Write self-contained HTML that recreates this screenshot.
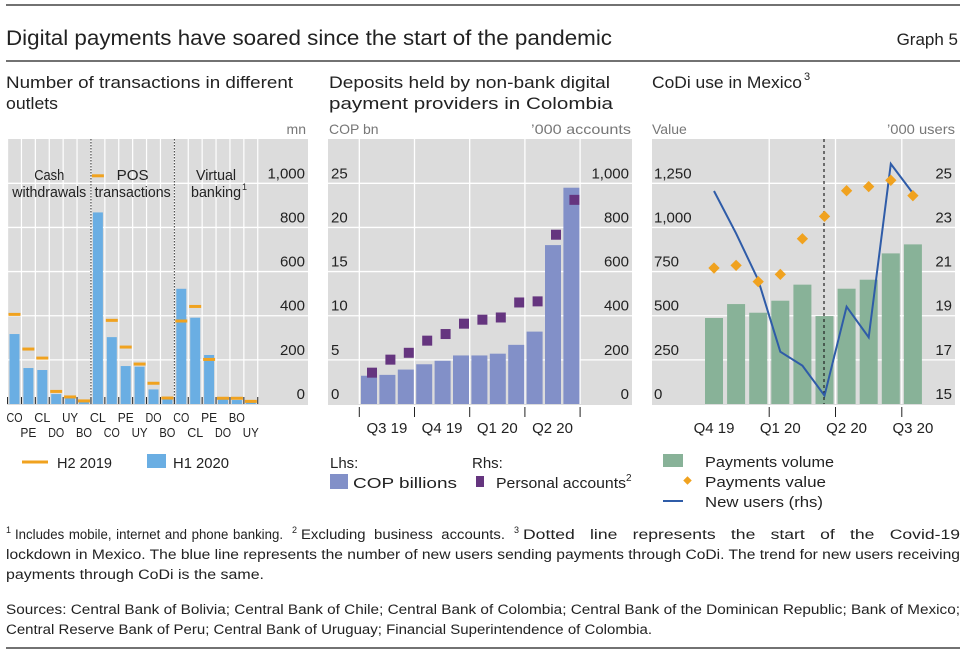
<!DOCTYPE html>
<html><head><meta charset="utf-8"><style>
html,body{margin:0;padding:0;background:#fff;}
svg{display:block;font-family:"Liberation Sans",sans-serif;}
</style></head><body>
<svg id="s" width="966" height="656" viewBox="0 0 966 656">
<line x1="6" y1="5" x2="960" y2="5" stroke="#444" stroke-width="1.5"/>
<text x="6" y="45" font-size="21" textLength="606" lengthAdjust="spacingAndGlyphs" fill="#222">Digital payments have soared since the start of the pandemic</text>
<text x="958" y="45" font-size="17" text-anchor="end" fill="#222">Graph 5</text>
<line x1="6" y1="61" x2="960" y2="61" stroke="#444" stroke-width="1.5"/>
<g font-size="17" fill="#222">
<text x="6" y="88" textLength="287" lengthAdjust="spacingAndGlyphs">Number of transactions in different</text>
<text x="6" y="109" textLength="52" lengthAdjust="spacingAndGlyphs">outlets</text>
<text x="329" y="88" textLength="281" lengthAdjust="spacingAndGlyphs">Deposits held by non-bank digital</text>
<text x="329" y="109" textLength="284" lengthAdjust="spacingAndGlyphs">payment providers in Colombia</text>
<text x="652" y="88" textLength="150" lengthAdjust="spacingAndGlyphs">CoDi use in Mexico</text>
<text x="804" y="80" font-size="11">3</text>
</g>
<g font-size="14" fill="#777">
<text x="306" y="134" text-anchor="end">mn</text>
<text x="329" y="134">COP bn</text>
<text x="631" y="134" text-anchor="end" textLength="100" lengthAdjust="spacingAndGlyphs">’000 accounts</text>
<text x="652" y="134">Value</text>
<text x="955" y="134" text-anchor="end" textLength="68" lengthAdjust="spacingAndGlyphs">’000 users</text>
</g>
<g id="p1"></g><g id="p2"></g><g id="p3"></g>
<g font-size="15" fill="#222">
<line x1="22" y1="462" x2="48" y2="462" stroke="#f0a21f" stroke-width="3"/>
<text x="57" y="468" textLength="55" lengthAdjust="spacingAndGlyphs">H2 2019</text>
<rect x="147" y="454" width="19" height="14" fill="#6aaee3"/>
<text x="173" y="468" textLength="56" lengthAdjust="spacingAndGlyphs">H1 2020</text>
<text x="330" y="468">Lhs:</text>
<rect x="330" y="474" width="18" height="15" fill="#8290c8"/>
<text x="353" y="488" textLength="104" lengthAdjust="spacingAndGlyphs">COP billions</text>
<text x="472" y="468">Rhs:</text>
<rect x="476" y="476" width="8" height="11" fill="#65357f"/>
<text x="496" y="488" textLength="130" lengthAdjust="spacingAndGlyphs">Personal accounts</text>
<text x="626" y="481" font-size="10">2</text>
<rect x="663" y="454" width="20" height="13" fill="#88b298"/>
<text x="705" y="467" textLength="129" lengthAdjust="spacingAndGlyphs">Payments volume</text>
<rect x="684.5" y="477.5" width="6" height="6" fill="#f0a21f" transform="rotate(45 687.5 480.5)"/>
<text x="705" y="487" textLength="121" lengthAdjust="spacingAndGlyphs">Payments value</text>
<line x1="663" y1="501" x2="683" y2="501" stroke="#2f5ca8" stroke-width="2"/>
<text x="705" y="507" textLength="118" lengthAdjust="spacingAndGlyphs">New users (rhs)</text>
</g>
<g font-size="13.5" fill="#222">
<text x="6" y="533" font-size="9">1</text>
<text x="15" y="539" word-spacing="1" textLength="268" lengthAdjust="spacingAndGlyphs">Includes mobile, internet and phone banking.</text>
<text x="292" y="533" font-size="9">2</text>
<text x="301" y="539" word-spacing="4" textLength="204" lengthAdjust="spacingAndGlyphs">Excluding business accounts.</text>
<text x="514" y="533" font-size="9">3</text>
<text x="523" y="539" word-spacing="8" textLength="437" lengthAdjust="spacingAndGlyphs">Dotted line represents the start of the Covid-19</text>
<text x="6" y="559" textLength="954" lengthAdjust="spacingAndGlyphs">lockdown in Mexico. The blue line represents the number of new users sending payments through CoDi. The trend for new users receiving</text>
<text x="6" y="579" textLength="258" lengthAdjust="spacingAndGlyphs">payments through CoDi is the same.</text>
<text x="6" y="614" textLength="954" lengthAdjust="spacingAndGlyphs">Sources: Central Bank of Bolivia; Central Bank of Chile; Central Bank of Colombia; Central Bank of the Dominican Republic; Bank of Mexico;</text>
<text x="6" y="634" textLength="646" lengthAdjust="spacingAndGlyphs">Central Reserve Bank of Peru; Central Bank of Uruguay; Financial Superintendence of Colombia.</text>
</g>
<line x1="6" y1="648" x2="960" y2="648" stroke="#444" stroke-width="1.5"/>
</svg>
<script>
// Panel 1 data
const p1Countries = ["CO","PE","CL","DO","UY","BO","CL","CO","PE","UY","DO","BO","CO","CL","PE","DO","BO","UY"];
const p1H1_2020 = [317,163,154,45,29,15,868,303,172,169,66,26,522,391,222,21,18,10];
const p1H2_2019 = [406,249,208,57,32,14,1034,379,258,181,94,27,376,442,202,26,26,12];
const p1Ticks = [0,200,400,600,800,1000];
const p1TickLabels = ["0","200","400","600","800","1,000"];
const p1Groups = ["Cash|withdrawals","POS|transactions","Virtual|banking"];
// Panel 2 data
const p2Bars = [3.2,3.3,3.9,4.5,4.9,5.5,5.5,5.7,6.7,8.2,18.0,24.5];
const p2Accounts = [142,201,232,287,317,364,382,392,460,465,767,925];
const p2LeftTicks = [0,5,10,15,20,25];
const p2RightTickLabels = ["0","200","400","600","800","1,000"];
const p2Quarters = ["Q3 19","Q4 19","Q1 20","Q2 20"];
// Panel 3 data
const p3Volume = [487,566,517,585,676,498,653,704,853,904];
const p3Value = [770,785,693,734,936,1063,1208,1231,1267,1180];
const p3Users = [24.65,22.73,20.62,17.37,16.74,15.38,19.41,18.02,25.88,24.55];
const p3LeftTicks = [0,250,500,750,1000,1250];
const p3LeftTickLabels = ["0","250","500","750","1,000","1,250"];
const p3RightTicks = [15,17,19,21,23,25];
const p3Quarters = ["Q4 19","Q1 20","Q2 20","Q3 20"];

const NS="http://www.w3.org/2000/svg";
function mk(parent,tag,attrs,text){const e=document.createElementNS(NS,tag);for(const k in attrs)e.setAttribute(k,attrs[k]);if(text!==undefined)e.textContent=text;parent.appendChild(e);return e;}
const Y0=404, YTOP=139;

// ---------- Panel 1 ----------
(function(){
const g=document.getElementById('p1');
const x0=7, x1=308, slot=13.9;
const y=v=>Y0-v*(Y0-183.3)/1000;
const xc=i=>14.5+slot*i;
const bg=mk(g,'rect',{x:x0,y:YTOP,width:x1-x0,height:Y0-YTOP+1,fill:'#dcdcdc'});

p1Ticks.forEach((t,i)=>{
 if(t>0){const l=mk(g,'line',{x1:x0,x2:x1,y1:y(t),y2:y(t),stroke:'#fff','stroke-width':1.3});
 }
 const tx=mk(g,'text',{x:305,y:y(t)-5,'font-size':15,'text-anchor':'end',fill:'#222'},p1TickLabels[i]);
 
});
for(let i=0;i<=p1Countries.length;i++){
 const xb=xc(i)-slot/2;
 const l=mk(g,'line',{x1:xb,x2:xb,y1:YTOP,y2:Y0,stroke:'#fff','stroke-width':1.2});
 
 const t=mk(g,'line',{x1:xb,x2:xb,y1:Y0-7,y2:Y0,stroke:'#222','stroke-width':1});
 
}
p1Countries.forEach((c,i)=>{
 const b=mk(g,'rect',{x:xc(i)-5,y:y(p1H1_2020[i]),width:10,height:Y0-y(p1H1_2020[i]),fill:'#6aaee3'});
 
});
p1Countries.forEach((c,i)=>{
 const d=mk(g,'line',{x1:xc(i)-6,x2:xc(i)+6,y1:y(p1H2_2019[i]),y2:y(p1H2_2019[i]),stroke:'#f0a21f','stroke-width':3});
 
 const lb=mk(g,'text',{x:xc(i),y:i%2===0?422:437,'font-size':13,'text-anchor':'middle',fill:'#222',textLength:16,lengthAdjust:'spacingAndGlyphs'},c);
 
});
[6,12].forEach(k=>{
 const xb=xc(k)-slot/2;
 const l=mk(g,'line',{x1:xb,x2:xb,y1:YTOP,y2:Y0,stroke:'#333','stroke-width':1,'stroke-dasharray':'1.5,1.5'});
 
});
const gw=[[30,74],[32,76],[40,50]];
p1Groups.forEach((gname,k)=>{
 const cx=xc(k*6+2.5);const parts=gname.split('|');
 const a=mk(g,'text',{x:cx,y:180,'font-size':15,'text-anchor':'middle',fill:'#222',textLength:gw[k][0],lengthAdjust:'spacingAndGlyphs'},parts[0]);
 
 const b=mk(g,'text',{x:cx,y:197,'font-size':15,'text-anchor':'middle',fill:'#222',textLength:gw[k][1],lengthAdjust:'spacingAndGlyphs'},parts[1]);
 
});
const sup=mk(g,'text',{x:xc(14.5)+26,y:190,'font-size':9,fill:'#222'},'1');

})();

// ---------- Panel 2 ----------
(function(){
const g=document.getElementById('p2');
const x0=328,x1=632;
const yl=v=>Y0-v*(Y0-183.3)/25;
const yr=v=>Y0-v*(Y0-183.3)/1000;
const xc=i=>369+18.4*i;
const bg=mk(g,'rect',{x:x0,y:YTOP,width:x1-x0,height:Y0-YTOP+1,fill:'#dcdcdc'});

p2LeftTicks.forEach((t,i)=>{
 if(t>0){const l=mk(g,'line',{x1:x0,x2:x1,y1:yl(t),y2:yl(t),stroke:'#fff','stroke-width':1.3});
 }
 const a=mk(g,'text',{x:331,y:yl(t)-5,'font-size':15,fill:'#222'},String(t));
 
 const b=mk(g,'text',{x:629,y:yl(t)-5,'font-size':15,'text-anchor':'end',fill:'#222'},p2RightTickLabels[i]);
 
});
for(let q=0;q<=4;q++){
 const xb=xc(q*3)-9.7;
 const l=mk(g,'line',{x1:xb,x2:xb,y1:YTOP,y2:Y0,stroke:'#fff','stroke-width':1.3});
 
 const t=mk(g,'line',{x1:xb,x2:xb,y1:407,y2:417,stroke:'#222','stroke-width':1});
 
 if(q<4){const lb=mk(g,'text',{x:xb+27.6,y:433,'font-size':15,'text-anchor':'middle',fill:'#222'},p2Quarters[q]);
 }
}
p2Bars.forEach((v,i)=>{
 const b=mk(g,'rect',{x:xc(i)-8,y:yl(v),width:16,height:Y0-yl(v),fill:'#8290c8'});
 
});
p2Accounts.forEach((v,i)=>{
 const s=mk(g,'rect',{x:xc(i)+3-5,y:yr(v)-5,width:10,height:10,fill:'#65357f'});
 
});
})();

// ---------- Panel 3 ----------
(function(){
const g=document.getElementById('p3');
const x0=652,x1=955;
const yl=v=>Y0-v*(Y0-183.3)/1250;
const yr=v=>Y0-(v-15)*(Y0-183.3)/10;
const xc=i=>714+22.1*i;
const bg=mk(g,'rect',{x:x0,y:YTOP,width:x1-x0,height:Y0-YTOP+1,fill:'#dcdcdc'});

p3LeftTicks.forEach((t,i)=>{
 if(t>0){const l=mk(g,'line',{x1:x0,x2:x1,y1:yl(t),y2:yl(t),stroke:'#fff','stroke-width':1.3});
 }
 const a=mk(g,'text',{x:654,y:yl(t)-5,'font-size':15,fill:'#222'},p3LeftTickLabels[i]);
 
 const b=mk(g,'text',{x:952,y:yl(t)-5,'font-size':15,'text-anchor':'end',fill:'#222'},String(p3RightTicks[i]));
 
});
for(let q=1;q<=3;q++){
 const xb=xc(q*3-1)+11;
 const l=mk(g,'line',{x1:xb,x2:xb,y1:YTOP,y2:Y0,stroke:'#fff','stroke-width':1.3});
 
 const t=mk(g,'line',{x1:xb,x2:xb,y1:407,y2:417,stroke:'#222','stroke-width':1});
 
}
p3Quarters.forEach((q,k)=>{
 const lb=mk(g,'text',{x:xc(k*3)+0,y:433,'font-size':15,'text-anchor':'middle',fill:'#222'},q);
 
});
p3Volume.forEach((v,i)=>{
 const b=mk(g,'rect',{x:xc(i)-9,y:yl(v),width:18,height:Y0-yl(v),fill:'#88b298'});
 
});
const dl=mk(g,'line',{x1:824,x2:824,y1:YTOP,y2:Y0,stroke:'#222','stroke-width':1.2,'stroke-dasharray':'3,3'});

const pts=p3Users.map((v,i)=>xc(i)+','+yr(v)).join(' ');
const pl=mk(g,'polyline',{points:pts,fill:'none',stroke:'#2f5ca8','stroke-width':2});

p3Value.forEach((v,i)=>{
 const cx=xc(i),cy=yl(v);
 const d=mk(g,'rect',{x:cx-4,y:cy-4,width:8,height:8,fill:'#f0a21f',transform:'rotate(45 '+cx+' '+cy+')'});
 
});
})();
</script>
</body></html>
